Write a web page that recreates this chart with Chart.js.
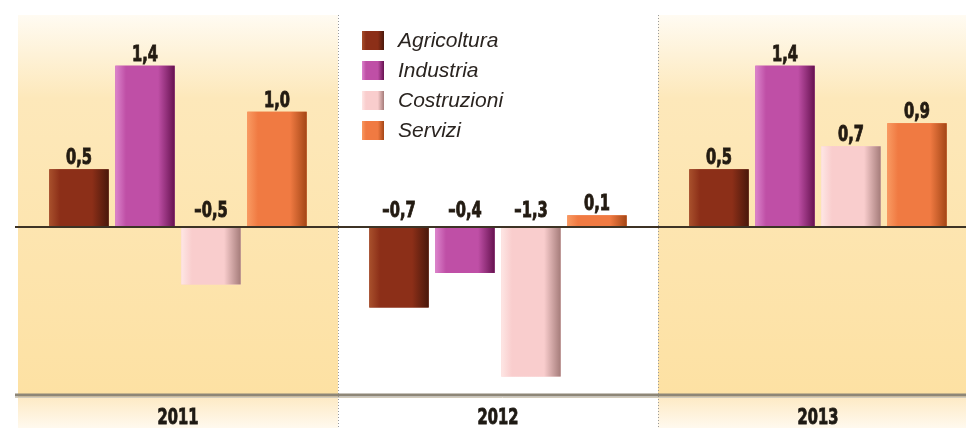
<!doctype html>
<html lang="it">
<head>
<meta charset="UTF-8">
<title>Variazioni per settore</title>
<script src="https://cdn.jsdelivr.net/npm/chart.js@4"></script>
<style>
  html, body { margin: 0; padding: 0; background: #fff; overflow: hidden; }
  .wrap { width: 990px; height: 428px; }
</style>
</head>
<body>
<div class="wrap"><canvas id="chart" width="990" height="428"></canvas></div>
<script>
var years = ['2011', '2012', '2013'];
var sectors = ['Agricoltura', 'Industria', 'Costruzioni', 'Servizi'];
var agricoltura = [0.5, -0.7, 0.5];
var industria = [1.4, -0.4, 1.4];
var costruzioni = [-0.5, -1.3, 0.7];
var servizi = [1.0, 0.1, 0.9];
var yMin = -1.46, yMax = 1.84;

// light edge / body / shaded edge for each sector
var palette = [
  { light: '#a8502c', main: '#8c2f18', dark: '#4a180b' },
  { light: '#dc84cc', main: '#bf4fa6', dark: '#661250' },
  { light: '#fee6e4', main: '#f9cdcd', dark: '#a57c7a' },
  { light: '#f99a62', main: '#f07a42', dark: '#a44616' }
];

var boldFont = 'bold 22px "DejaVu Sans Condensed", "DejaVu Sans", sans-serif';

function fmt(v) {
  var s = Math.abs(v).toFixed(1).replace('.', ',');
  return v < 0 ? '\u2013' + s : s;
}

// squeezed heavy text, like the condensed black face of the original
function narrowText(c, txt, x, y) {
  c.save();
  c.translate(x, y);
  c.scale(0.74, 1);
  c.lineWidth = 0.9;
  c.strokeStyle = c.fillStyle;
  c.fillText(txt, 0, 0);
  c.strokeText(txt, 0, 0);
  c.restore();
}

function barGradient(c, left, w, col) {
  var g = c.createLinearGradient(left, 0, left + w, 0);
  g.addColorStop(0, col.light);
  g.addColorStop(0.18, col.main);
  g.addColorStop(0.72, col.main);
  g.addColorStop(1, col.dark);
  return g;
}

var decor = {
  id: 'decor',
  beforeDraw: function (chart) {
    var c = chart.ctx, a = chart.chartArea, x = chart.scales.x;
    var step = x.getPixelForValue(1) - x.getPixelForValue(0);
    c.save();
    c.fillStyle = '#fff';
    c.fillRect(0, 0, chart.width, chart.height);
    for (var i = 0; i < years.length; i++) {
      if (i === 1) continue;
      var l = x.getPixelForValue(i) - step / 2;
      var g = c.createLinearGradient(0, a.top, 0, a.bottom);
      g.addColorStop(0, '#fffbf2');
      g.addColorStop(0.22, '#fde8ba');
      g.addColorStop(1, '#fde1a3');
      c.fillStyle = g;
      c.fillRect(l, a.top, step, a.bottom - a.top);
      var g2 = c.createLinearGradient(0, a.bottom, 0, chart.height);
      g2.addColorStop(0, '#fde9c2');
      g2.addColorStop(1, '#fff9ee');
      c.fillStyle = g2;
      c.fillRect(l, a.bottom, step, chart.height - a.bottom);
    }
    c.strokeStyle = '#9b9b9b';
    c.lineWidth = 1;
    c.setLineDash([1, 2]);
    for (var j = 1; j < years.length; j++) {
      var dx = Math.round(x.getPixelForValue(j) - step / 2) + 0.5;
      c.beginPath();
      c.moveTo(dx, a.top);
      c.lineTo(dx, chart.height);
      c.stroke();
    }
    c.restore();
  },
  afterDatasetsDraw: function (chart) {
    var c = chart.ctx, a = chart.chartArea, x = chart.scales.x, y = chart.scales.y;
    var zero = y.getPixelForValue(0);
    c.save();
    // shaded bars
    chart.data.datasets.forEach(function (ds, di) {
      var meta = chart.getDatasetMeta(di);
      meta.data.forEach(function (el) {
        var p = el.getProps(['x', 'y', 'base', 'width'], true);
        var left = p.x - p.width / 2;
        var top = Math.min(p.y, p.base), h = Math.abs(p.base - p.y);
        c.fillStyle = barGradient(c, left, p.width, palette[di]);
        c.fillRect(left, top, p.width, h);
      });
    });
    // zero line
    c.strokeStyle = '#3d3325';
    c.lineWidth = 2;
    c.beginPath();
    c.moveTo(a.left - 3, zero);
    c.lineTo(chart.width, zero);
    c.stroke();
    // bottom rule
    c.strokeStyle = '#8d8677';
    c.lineWidth = 3;
    c.beginPath();
    c.moveTo(a.left - 3, a.bottom);
    c.lineTo(chart.width, a.bottom);
    c.stroke();
    c.strokeStyle = '#d2cbbb';
    c.lineWidth = 1;
    c.beginPath();
    c.moveTo(a.left - 3, a.bottom + 2.5);
    c.lineTo(chart.width, a.bottom + 2.5);
    c.stroke();
    // value labels
    c.fillStyle = '#231b12';
    c.font = boldFont;
    c.textAlign = 'center';
    c.textBaseline = 'alphabetic';
    chart.data.datasets.forEach(function (ds, di) {
      var meta = chart.getDatasetMeta(di);
      meta.data.forEach(function (el, i) {
        var v = ds.data[i];
        var p = el.getProps(['x', 'y', 'base'], true);
        var ly = v < 0 ? zero - 10 : p.y - 5;
        narrowText(c, fmt(v), p.x, ly);
      });
    });
    // year labels under the rule
    c.fillStyle = '#1e1a14';
    years.forEach(function (yr, i) {
      narrowText(c, yr, x.getPixelForValue(i), a.bottom + 29);
    });
    // legend
    c.font = 'italic 21px "Liberation Sans", Arial, sans-serif';
    c.textAlign = 'left';
    c.textBaseline = 'middle';
    sectors.forEach(function (s, i) {
      var cy = 41 + i * 30;
      c.fillStyle = barGradient(c, 362, 22, palette[i]);
      c.fillRect(362, cy - 10, 22, 19);
      c.fillStyle = '#2a2420';
      c.fillText(s, 398, cy);
    });
    c.restore();
  }
};

var datasets = [agricoltura, industria, costruzioni, servizi].map(function (vals, i) {
  return {
    label: sectors[i],
    data: vals,
    backgroundColor: palette[i].main,
    borderWidth: 0,
    barPercentage: 0.9,
    categoryPercentage: 0.825
  };
});

new Chart(document.getElementById('chart'), {
  type: 'bar',
  data: { labels: years, datasets: datasets },
  options: {
    responsive: false,
    animation: false,
    layout: { padding: { left: 18, right: 12, top: 15, bottom: 0 } },
    plugins: { legend: { display: false }, tooltip: { enabled: false } },
    scales: {
      x: {
        grid: { display: false, drawTicks: false },
        border: { display: false },
        ticks: { display: false },
        afterFit: function (s) { s.height = 33; }
      },
      y: {
        display: false,
        min: yMin,
        max: yMax
      }
    }
  },
  plugins: [decor]
});
</script>
</body>
</html>
